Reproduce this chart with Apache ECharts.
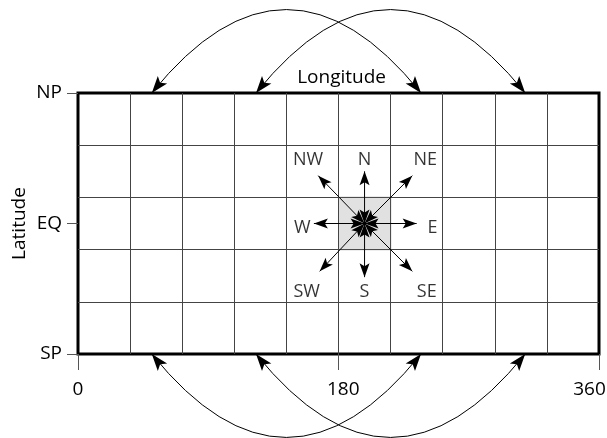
<!DOCTYPE html>
<html>
<head>
<meta charset="utf-8">
<script src="https://cdn.jsdelivr.net/npm/echarts@6/dist/echarts.min.js"></script>
<style>
  html, body { margin: 0; padding: 0; background: #fff; }
  #chart { width: 607px; height: 438px; }
</style>
</head>
<body>
<div id="chart"></div>
<script>
// grid: longitude 0..360, latitude 0 (SP) .. 180 (NP), cells of 36
const lonTicks = [0, 180, 360]
const latTicks = [0, 90, 180]
const latLabels = ['SP', 'EQ', 'NP']
const cellStep = 36

// double-headed arcs along the top and bottom edges [from, to] in longitude
const topArcs = [[51, 237], [123, 309]]
const bottomArcs = [[51, 237], [123, 309]]

// highlighted cell and the eight neighbour directions
const shadedCell = [[180, 72], [216, 108]]
const compassCenter = [198, 90]
const compassNames = ['N', 'NE', 'E', 'SE', 'S', 'SW', 'W', 'NW']
const compassTips = [[198, 126], [231, 123], [234, 90], [231, 57], [198, 53], [167, 57], [163, 90], [166, 123]]
const compassLabelPos = [[198, 134], [240, 134], [245, 87], [241, 43], [198, 43], [158, 43], [155, 87], [159, 134]]

const font = '"Open Sans", "Noto Sans", sans-serif'
const arcBend = 0.62

const arcData = topArcs.map(a => [a[0], a[1], 180]).concat(bottomArcs.map(a => [a[0], a[1], 0]))
const labelData = compassNames.map((n, i) => ({ name: n, value: compassLabelPos[i] }))

// filled, notched arrow head with its tip at `tip`, pointing along `dir`
function arrowHead(tip, dir, len, hw) {
  const d = Math.hypot(dir[0], dir[1]) || 1
  const ux = dir[0] / d, uy = dir[1] / d
  const bx = tip[0] - ux * len, by = tip[1] - uy * len
  const nx = tip[0] - ux * len * 0.78, ny = tip[1] - uy * len * 0.78
  return {
    type: 'polygon',
    shape: { points: [tip, [bx - uy * hw, by + ux * hw], [nx, ny], [bx + uy * hw, by - ux * hw]] },
    style: { fill: '#000', stroke: null }
  }
}

function renderArc(params, api) {
  const lat = api.value(2)
  const p1 = api.coord([api.value(0), lat])
  const p2 = api.coord([api.value(1), lat])
  const side = lat > 90 ? -1 : 1 // bulge away from the grid
  const len = Math.abs(p2[0] - p1[0])
  const cp = [(p1[0] + p2[0]) / 2, p1[1] + side * len * arcBend]
  return {
    type: 'group',
    children: [
      {
        type: 'bezierCurve',
        shape: { x1: p1[0], y1: p1[1], x2: p2[0], y2: p2[1], cpx1: cp[0], cpy1: cp[1] },
        style: { stroke: '#000', lineWidth: 1, fill: null }
      },
      arrowHead(p1, [p1[0] - cp[0], p1[1] - cp[1]], 17, 6),
      arrowHead(p2, [p2[0] - cp[0], p2[1] - cp[1]], 17, 6)
    ]
  }
}

function renderCompass(params, api) {
  const c = api.coord(compassCenter)
  const t = api.coord([api.value(0), api.value(1)])
  return {
    type: 'group',
    children: [
      { type: 'line', shape: { x1: c[0], y1: c[1], x2: t[0], y2: t[1] }, style: { stroke: '#000', lineWidth: 1 } },
      arrowHead(t, [t[0] - c[0], t[1] - c[1]], 14, 5),
      arrowHead(c, [c[0] - t[0], c[1] - t[1]], 14, 5)
    ]
  }
}

const chart = echarts.init(document.getElementById('chart'))
chart.setOption({
  animation: false,
  textStyle: { fontFamily: font },
  grid: {
    left: 78, right: 8, top: 93, bottom: 84,
    outerBoundsMode: 'none',
    show: true,
    borderColor: '#000',
    borderWidth: 3,
    backgroundColor: 'transparent'
  },
  xAxis: [
    {
      type: 'value', min: 0, max: 360, interval: cellStep, position: 'top',
      name: '{n|Longitude}', nameLocation: 'middle', nameGap: 6,
      nameTextStyle: {
        fontSize: 19, color: '#000', fontFamily: font,
        rich: { n: { fontSize: 19, color: '#000', fontFamily: font, width: 95, align: 'right' } }
      },
      axisLine: { show: false }, axisTick: { show: false }, axisLabel: { show: false },
      splitLine: { show: true, showMinLine: false, showMaxLine: false, lineStyle: { color: '#444', width: 1 } }
    },
    {
      type: 'value', min: 0, max: 360, interval: 180, position: 'bottom',
      axisLine: { show: false },
      axisTick: { show: true, length: 16, lineStyle: { color: '#555', width: 1 } },
      axisLabel: {
        margin: 26, fontSize: 19, color: '#000', fontFamily: font,
        // the middle label sits a little right of its tick, the last one a little left
        formatter: v => {
          const i = lonTicks.indexOf(v)
          if (i < 0) return ''
          if (i === 1) return '\u2002' + v
          if (i === 2) return v + '\u2002\u2002'
          return String(v)
        }
      },
      splitLine: { show: false }
    }
  ],
  yAxis: [
    {
      type: 'value', min: 0, max: 180, interval: cellStep, position: 'left',
      name: 'Latitude', nameLocation: 'middle', nameRotate: 90, nameGap: 49,
      nameTextStyle: { fontSize: 19, color: '#000', fontFamily: font },
      axisLine: { show: false }, axisTick: { show: false }, axisLabel: { show: false },
      splitLine: { show: true, showMinLine: false, showMaxLine: false, lineStyle: { color: '#444', width: 1 } }
    },
    {
      type: 'value', min: 0, max: 180, interval: 90, position: 'left',
      axisLine: { show: false },
      axisTick: { show: true, length: 11, lineStyle: { color: '#555', width: 1 } },
      axisLabel: {
        margin: 16, fontSize: 19, color: '#000', fontFamily: font,
        formatter: v => latLabels[latTicks.indexOf(v)] || ''
      },
      splitLine: { show: false }
    }
  ],
  series: [
    {
      name: 'labels',
      type: 'scatter',
      xAxisIndex: 0, yAxisIndex: 0,
      symbolSize: 0,
      itemStyle: { color: 'transparent' },
      label: {
        show: true, position: 'inside', formatter: '{b}',
        fontSize: 18, color: '#000', fontFamily: font
      },
      data: labelData,
      markArea: {
        silent: true,
        itemStyle: { color: '#e1e1e1', borderColor: '#444', borderWidth: 1 },
        data: [[{ coord: shadedCell[0] }, { coord: shadedCell[1] }]]
      },
      z: 3
    },
    {
      name: 'arcs',
      type: 'custom',
      xAxisIndex: 0, yAxisIndex: 0,
      clip: false,
      silent: true,
      renderItem: renderArc,
      encode: { x: [0, 1], y: 2 },
      data: arcData,
      z: 5
    },
    {
      name: 'compass',
      type: 'custom',
      xAxisIndex: 0, yAxisIndex: 0,
      clip: false,
      silent: true,
      renderItem: renderCompass,
      encode: { x: 0, y: 1 },
      data: compassTips,
      z: 5
    }
  ]
})
</script>
</body>
</html>
